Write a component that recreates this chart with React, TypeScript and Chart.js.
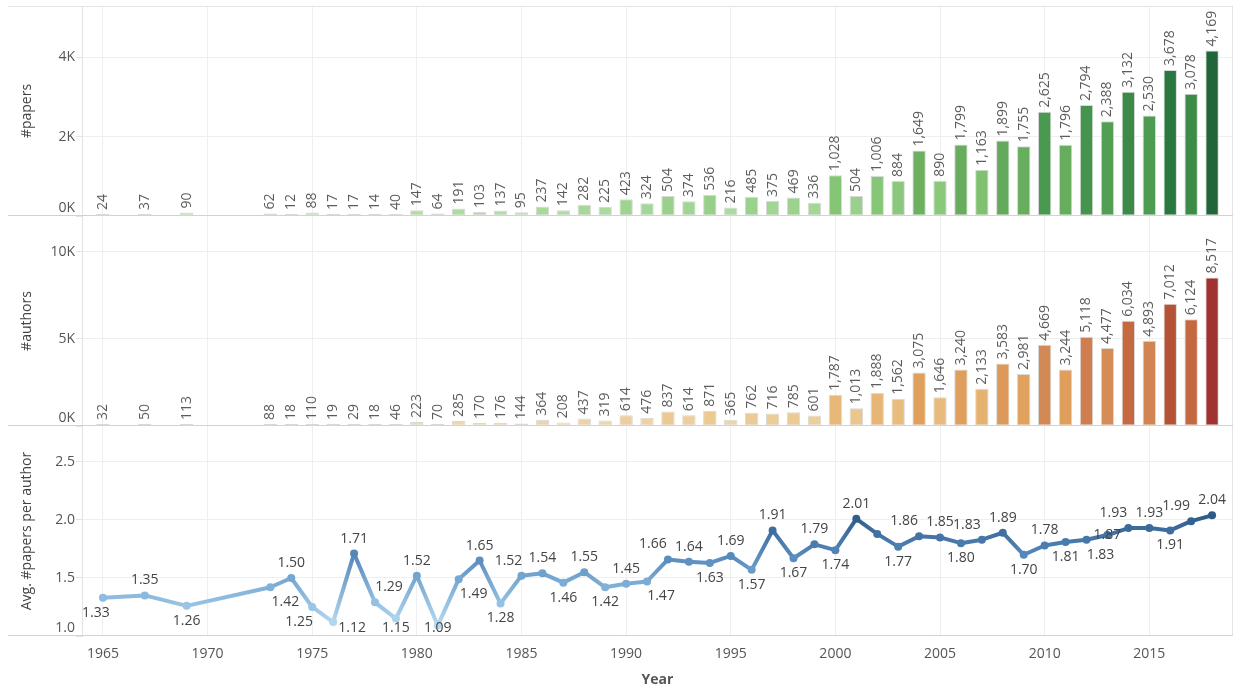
import { useEffect, useRef } from 'react';
import { Chart, registerables } from 'chart.js';

Chart.register(...registerables);

// ---------------- data ----------------
const years = [1965, 1967, 1969, 1973, 1974, 1975, 1976, 1977, 1978, 1979,
  1980, 1981, 1982, 1983, 1984, 1985, 1986, 1987, 1988, 1989,
  1990, 1991, 1992, 1993, 1994, 1995, 1996, 1997, 1998, 1999,
  2000, 2001, 2002, 2003, 2004, 2005, 2006, 2007, 2008, 2009,
  2010, 2011, 2012, 2013, 2014, 2015, 2016, 2017, 2018];

const papers = [24, 37, 90, 62, 12, 88, 17, 17, 14, 40,
  147, 64, 191, 103, 137, 95, 237, 142, 282, 225,
  423, 324, 504, 374, 536, 216, 485, 375, 469, 336,
  1028, 504, 1006, 884, 1649, 890, 1799, 1163, 1899, 1755,
  2625, 1796, 2794, 2388, 3132, 2530, 3678, 3078, 4169];

const authors = [32, 50, 113, 88, 18, 110, 19, 29, 18, 46,
  223, 70, 285, 170, 176, 144, 364, 208, 437, 319,
  614, 476, 837, 614, 871, 365, 762, 716, 785, 601,
  1787, 1013, 1888, 1562, 3075, 1646, 3240, 2133, 3583, 2981,
  4669, 3244, 5118, 4477, 6034, 4893, 7012, 6124, 8517];

const avgPapersPerAuthor = [1.33, 1.35, 1.26, 1.42, 1.50, 1.25, 1.12, 1.71, 1.29, 1.15,
  1.52, 1.09, 1.49, 1.65, 1.28, 1.52, 1.54, 1.46, 1.55, 1.42,
  1.45, 1.47, 1.66, 1.64, 1.63, 1.69, 1.57, 1.91, 1.67, 1.79,
  1.74, 2.01, 1.88, 1.77, 1.86, 1.85, 1.80, 1.83, 1.89, 1.70,
  1.78, 1.81, 1.83, 1.87, 1.93, 1.93, 1.91, 1.99, 2.04];

const xTickYears = [1965, 1970, 1975, 1980, 1985, 1990, 1995, 2000, 2005, 2010, 2015];
const papersTicks = [0, 2000, 4000];
const authorsTicks = [0, 5000, 10000];
const avgTicks = [1.0, 1.5, 2.0, 2.5];

// ---------------- label placement (styling) ----------------
const avgLabelBelow = [1965, 1969, 1973, 1975, 1976, 1979, 1981, 1982, 1984, 1987, 1989, 1991,
  1994, 1996, 1998, 2000, 2003, 2006, 2009, 2011, 2012, 2016];
const avgLabelCenter = [2013];
const avgLabelHidden = [2002];
const avgLabelNudgeX: Record<number, number> = {
  1965: -7, 1973: 15, 1975: -13, 1976: 19, 1978: 14, 1982: 15, 1985: -13,
  1991: 14, 1992: -15, 2004: -15, 2007: -15, 2012: 14, 2014: -15, 2017: -15,
};

// ---------------- colour ramps ----------------
type Stop = [number, string];
const greenRamp: Stop[] = [[0, '#b8e2aa'], [500, '#99d18c'], [1000, '#86c777'], [1650, '#6cb060'],
  [2600, '#4b9a50'], [3600, '#2c7b40'], [4169, '#216538']];
const orangeRamp: Stop[] = [[0, '#f3ddb8'], [800, '#ebca93'], [1800, '#e8b878'], [3100, '#e0a05b'],
  [4700, '#d38956'], [6000, '#c66b40'], [7000, '#b55337'], [8517, '#a03231']];
const blueRamp: Stop[] = [[1.09, '#b6daf0'], [1.3, '#92bfe1'], [1.5, '#74a7d1'], [1.7, '#5687ba'],
  [1.9, '#3f6fa0'], [2.04, '#2d5a88']];

function hexToRgb(h: string) {
  const n = parseInt(h.slice(1), 16);
  return [(n >> 16) & 255, (n >> 8) & 255, n & 255];
}
function rampColor(ramp: Stop[], v: number) {
  if (v <= ramp[0][0]) return ramp[0][1];
  for (let i = 1; i < ramp.length; i++) {
    if (v <= ramp[i][0]) {
      const [v0, c0] = ramp[i - 1];
      const [v1, c1] = ramp[i];
      const t = (v - v0) / (v1 - v0);
      const a = hexToRgb(c0), b = hexToRgb(c1);
      const m = a.map((x, k) => Math.round(x + (b[k] - x) * t));
      return `rgb(${m[0]},${m[1]},${m[2]})`;
    }
  }
  return ramp[ramp.length - 1][1];
}

const FONT = '"Open Sans", "DejaVu Sans", sans-serif';

const dividerPlugin = {
  id: 'dividers',
  beforeDatasetsDraw(chart: any) {
    const { ctx, chartArea } = chart;
    ctx.save();
    ctx.lineWidth = 1;
    ctx.strokeStyle = '#e4e4e4';
    ctx.beginPath();
    ctx.moveTo(8, Math.round(chartArea.top) + 0.5);
    ctx.lineTo(chartArea.right, Math.round(chartArea.top) + 0.5);
    ctx.moveTo(Math.round(chartArea.right) - 0.5, chartArea.top);
    ctx.lineTo(Math.round(chartArea.right) - 0.5, chartArea.bottom);
    ctx.stroke();
    ctx.strokeStyle = '#d2d2d2';
    ctx.beginPath();
    ['yPapers', 'yAuthors', 'yAvg'].forEach((id) => {
      const s = chart.scales[id];
      const y = Math.round(s.bottom) - 0.5;
      ctx.moveTo(8, y);
      ctx.lineTo(chartArea.right, y);
    });
    ctx.stroke();
    ctx.restore();
  },
};

const labelPlugin = {
  id: 'valueLabels',
  afterDatasetsDraw(chart: any) {
    const { ctx, chartArea } = chart;
    ctx.save();
    // bar labels
    ctx.font = `14px ${FONT}`;
    ctx.fillStyle = '#5c5c5c';
    [0, 1].forEach((di) => {
      const meta = chart.getDatasetMeta(di);
      const vals = di === 0 ? papers : authors;
      meta.data.forEach((el: any, i: number) => {
        const { x, y } = el.getProps(['x', 'y'], true);
        ctx.save();
        ctx.translate(x, y - 4);
        ctx.rotate(-Math.PI / 2);
        ctx.textAlign = 'left';
        ctx.textBaseline = 'middle';
        ctx.fillText(vals[i].toLocaleString('en-US'), 0, 0);
        ctx.restore();
      });
    });
    // line labels
    const s = chart.scales.yAvg;
    const meta = chart.getDatasetMeta(2);
    ctx.fillStyle = '#444444';
    ctx.font = `14px ${FONT}`;
    ctx.textAlign = 'center';
    ctx.textBaseline = 'middle';
    meta.data.forEach((el: any, i: number) => {
      const yr = years[i];
      if (avgLabelHidden.includes(yr)) return;
      const { x, y } = el.getProps(['x', 'y'], true);
      const text = avgPapersPerAuthor[i].toFixed(2);
      const w = ctx.measureText(text).width;
      let ly = y - 15;
      if (avgLabelBelow.includes(yr)) ly = y + 15;
      if (avgLabelCenter.includes(yr)) ly = y;
      ly = Math.min(ly, s.bottom - 8);
      ly = Math.max(ly, s.top + 9);
      let lx = x + (avgLabelNudgeX[yr] || 0);
      lx = Math.min(lx, chartArea.right - w / 2 - 1);
      ctx.fillText(text, lx, ly);
    });
    ctx.restore();
  },
};

function fixY(scale: any) {
  scale.width = 82;
  scale.paddingTop = 0;
  scale.paddingBottom = 0;
}

export default function App() {
  const ref = useRef<HTMLCanvasElement | null>(null);

  useEffect(() => {
    if (!ref.current) return;
    const yGrid = (minVal: number) => ({
      color: (c: any) => (c.tick && c.tick.value === minVal ? 'rgba(0,0,0,0)' : '#efefef'),
      drawTicks: true,
      tickLength: 6,
      tickColor: '#e2e2e2',
    });
    const tickFont = { family: FONT, size: 14 };
    const titleFont = { family: FONT, size: 14 };

    const chart = new Chart(ref.current, {
      type: 'bar',
      data: {
        datasets: [
          {
            type: 'bar',
            label: '#papers',
            data: years.map((yr, i) => ({ x: yr, y: papers[i] })),
            yAxisID: 'yPapers',
            xAxisID: 'x',
            grouped: false,
            backgroundColor: papers.map((v) => rampColor(greenRamp, v)),
            borderColor: '#d9d9d9',
            borderWidth: 1,
            borderSkipped: false,
            minBarLength: 2,
            barPercentage: 0.64,
            categoryPercentage: 1,
          } as any,
          {
            type: 'bar',
            label: '#authors',
            data: years.map((yr, i) => ({ x: yr, y: authors[i] })),
            yAxisID: 'yAuthors',
            xAxisID: 'x',
            grouped: false,
            backgroundColor: authors.map((v) => rampColor(orangeRamp, v)),
            borderColor: '#d9d9d9',
            borderWidth: 1,
            borderSkipped: false,
            minBarLength: 2,
            barPercentage: 0.64,
            categoryPercentage: 1,
          } as any,
          {
            type: 'line',
            label: 'Avg. #papers per author',
            data: years.map((yr, i) => ({ x: yr, y: avgPapersPerAuthor[i] })),
            yAxisID: 'yAvg',
            xAxisID: 'x',
            borderWidth: 4,
            borderCapStyle: 'round',
            borderJoinStyle: 'round',
            pointRadius: 4,
            pointBorderWidth: 0,
            pointBackgroundColor: avgPapersPerAuthor.map((v) => rampColor(blueRamp, v)),
            borderColor: '#5a8cbd',
            tension: 0,
            segment: {
              borderColor: (c: any) => {
                const g = c.chart.ctx.createLinearGradient(c.p0.x, c.p0.y, c.p1.x, c.p1.y);
                g.addColorStop(0, rampColor(blueRamp, avgPapersPerAuthor[c.p0DataIndex]));
                g.addColorStop(1, rampColor(blueRamp, avgPapersPerAuthor[c.p1DataIndex]));
                return g;
              },
            },
          } as any,
        ],
      },
      options: {
        responsive: false,
        animation: false,
        layout: { padding: { top: 6, right: 1, left: 0, bottom: 0 } },
        plugins: {
          legend: { display: false },
          tooltip: { enabled: false },
        },
        scales: {
          x: {
            type: 'linear',
            position: 'bottom',
            min: 1964,
            max: 2019,
            offset: false,
            afterBuildTicks: (s: any) => {
              s.ticks = xTickYears.map((v) => ({ value: v }));
            },
            afterFit: (s: any) => {
              s.height = 52;
              s.paddingLeft = 0;
              s.paddingRight = 0;
            },
            ticks: {
              callback: (v: any) => String(v),
              color: '#555555',
              font: tickFont,
              padding: 10,
              maxRotation: 0,
              autoSkip: false,
            },
            grid: { color: '#efefef', drawTicks: false, offset: false },
            border: { display: false },
            title: {
              display: true,
              text: 'Year',
              color: '#555555',
              font: { family: FONT, size: 14, weight: 'bold' },
              padding: { top: 0, bottom: 0 },
            },
          },
          yPapers: {
            type: 'linear',
            position: 'left',
            stack: 'panels',
            stackWeight: 1,
            weight: 3,
            min: 0,
            max: 5290,
            afterBuildTicks: (s: any) => {
              s.ticks = papersTicks.map((v) => ({ value: v }));
            },
            afterFit: fixY,
            ticks: {
              callback: (v: any) => (v === 0 ? ['0K', ''] : `${v / 1000}K`),
              color: '#555555',
              font: tickFont,
              padding: 1,
            },
            grid: yGrid(0),
            border: { display: true, color: '#e2e2e2' },
            title: { display: true, text: '#papers', color: '#444444', font: titleFont, padding: { top: 19, bottom: 0 } },
          },
          yAuthors: {
            type: 'linear',
            position: 'left',
            stack: 'panels',
            stackWeight: 1,
            weight: 2,
            min: 0,
            max: 12050,
            afterBuildTicks: (s: any) => {
              s.ticks = authorsTicks.map((v) => ({ value: v }));
            },
            afterFit: fixY,
            ticks: {
              callback: (v: any) => (v === 0 ? ['0K', ''] : `${v / 1000}K`),
              color: '#555555',
              font: tickFont,
              padding: 1,
            },
            grid: yGrid(0),
            border: { display: true, color: '#e2e2e2' },
            title: { display: true, text: '#authors', color: '#444444', font: titleFont, padding: { top: 19, bottom: 0 } },
          },
          yAvg: {
            type: 'linear',
            position: 'left',
            stack: 'panels',
            stackWeight: 1,
            weight: 1,
            min: 1.0,
            max: 2.81,
            afterBuildTicks: (s: any) => {
              s.ticks = avgTicks.map((v) => ({ value: v }));
            },
            afterFit: fixY,
            ticks: {
              callback: (v: any) => (v === 1 ? ['1.0', ''] : Number(v).toFixed(1)),
              color: '#555555',
              font: tickFont,
              padding: 1,
            },
            grid: yGrid(1),
            border: { display: true, color: '#e2e2e2' },
            title: { display: true, text: 'Avg. #papers per author', color: '#444444', font: titleFont, padding: { top: 19, bottom: 0 } },
          },
        } as any,
      },
      plugins: [dividerPlugin, labelPlugin],
    });
    return () => chart.destroy();
  }, []);

  return (
    <div style={{ position: 'fixed', left: 0, top: 0, width: 1237, height: 688, background: '#ffffff' }}>
      <canvas ref={ref} width={1237} height={688} style={{ display: 'block' }} />
    </div>
  );
}
